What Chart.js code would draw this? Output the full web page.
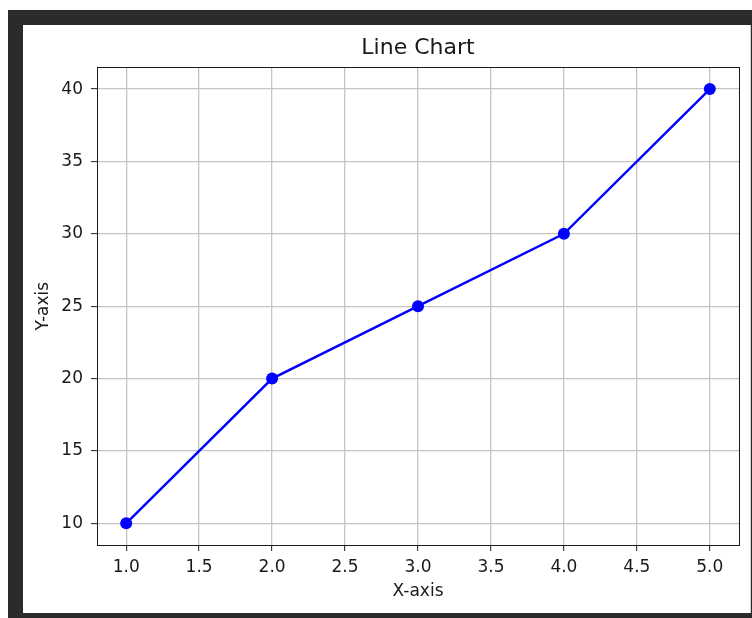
<!DOCTYPE html>
<html>
<head>
<meta charset="utf-8">
<script src="https://cdn.jsdelivr.net/npm/chart.js@4.4.1/dist/chart.umd.min.js"></script>
<style>
  html, body { margin: 0; padding: 0; background: #ffffff; width: 752px; height: 618px; overflow: hidden; }
  #frame { position: absolute; left: 8px; top: 10px; width: 744px; height: 608px; background: #2b2b2b; }
  #frame .line { position: absolute; left: 0; top: 4px; width: 744px; height: 1px; background: #333333; }
  #panel { position: absolute; left: 23px; top: 25px; width: 727px; height: 588px; background: #ffffff; border-right: 1px solid #d0d0d0; }
  canvas { display: block; }
</style>
</head>
<body>
<div id="frame"><div class="line"></div></div>
<div id="panel"><canvas id="c" width="727" height="588"></canvas></div>
<script>
// ---- data ----
const xValues = [1, 2, 3, 4, 5];
const yValues = [10, 20, 25, 30, 40];
const xTicks = [1.0, 1.5, 2.0, 2.5, 3.0, 3.5, 4.0, 4.5, 5.0];
const yTicks = [10, 15, 20, 25, 30, 35, 40];
const titleText = 'Line Chart';
const xLabel = 'X-axis';
const yLabel = 'Y-axis';

const FONT = "'DejaVu Sans', sans-serif";
const TEXT = '#1a1a1a';

const boxPlugin = {
  id: 'axesBox',
  afterDatasetsDraw(chart) {
    const {ctx, chartArea: a} = chart;
    ctx.save();
    ctx.strokeStyle = '#1a1a1a';
    ctx.lineWidth = 1;
    ctx.strokeRect(Math.round(a.left) + 0.5, Math.round(a.top) + 0.5,
                   Math.round(a.right - a.left), Math.round(a.bottom - a.top));
    ctx.restore();
  }
};

new Chart(document.getElementById('c'), {
  type: 'line',
  data: {
    datasets: [{
      data: xValues.map((x, i) => ({x: x, y: yValues[i]})),
      borderColor: '#0000ff',
      backgroundColor: '#0000ff',
      borderWidth: 2.4,
      pointRadius: 6,
      pointBorderWidth: 0,
      pointBackgroundColor: '#0000ff',
      tension: 0,
      fill: false
    }]
  },
  options: {
    responsive: false,
    animation: false,
    events: [],
    layout: { padding: { left: 10, right: 11, top: 0, bottom: 0 } },
    plugins: {
      legend: { display: false },
      tooltip: { enabled: false },
      title: {
        display: true,
        text: titleText,
        fullSize: false,
        color: TEXT,
        font: { family: FONT, size: 22, weight: 'normal', lineHeight: 1.2 },
        padding: { top: 10, bottom: 6 }
      }
    },
    scales: {
      x: {
        type: 'linear',
        min: 0.8,
        max: 5.2,
        afterBuildTicks: s => { s.ticks = xTicks.map(v => ({value: v})); },
        afterFit: s => { s.height = 68; },
        ticks: {
          color: TEXT,
          font: { family: FONT, size: 17 },
          padding: 6,
          maxRotation: 0,
          autoSkip: false,
          callback: v => Number(v).toFixed(1)
        },
        grid: { color: '#c4c4c4', lineWidth: 1.3, tickLength: 6, tickColor: '#1a1a1a', tickWidth: 1 },
        border: { color: '#1a1a1a', width: 1 },
        title: {
          display: true,
          text: xLabel,
          color: TEXT,
          font: { family: FONT, size: 17, lineHeight: 1.2 },
          padding: { top: 0, bottom: 11 }
        }
      },
      y: {
        type: 'linear',
        min: 8.5,
        max: 41.5,
        afterBuildTicks: s => { s.ticks = yTicks.map(v => ({value: v})); },
        afterFit: s => { s.width = 64; },
        ticks: {
          color: TEXT,
          font: { family: FONT, size: 17 },
          padding: 8,
          autoSkip: false,
          callback: v => String(v)
        },
        grid: { color: '#c4c4c4', lineWidth: 1.3, tickLength: 6, tickColor: '#1a1a1a', tickWidth: 1 },
        border: { color: '#1a1a1a', width: 1 },
        title: {
          display: true,
          text: yLabel,
          color: TEXT,
          font: { family: FONT, size: 17, lineHeight: 1.2 },
          padding: 0
        }
      }
    }
  },
  plugins: [boxPlugin]
});
</script>
</body>
</html>
